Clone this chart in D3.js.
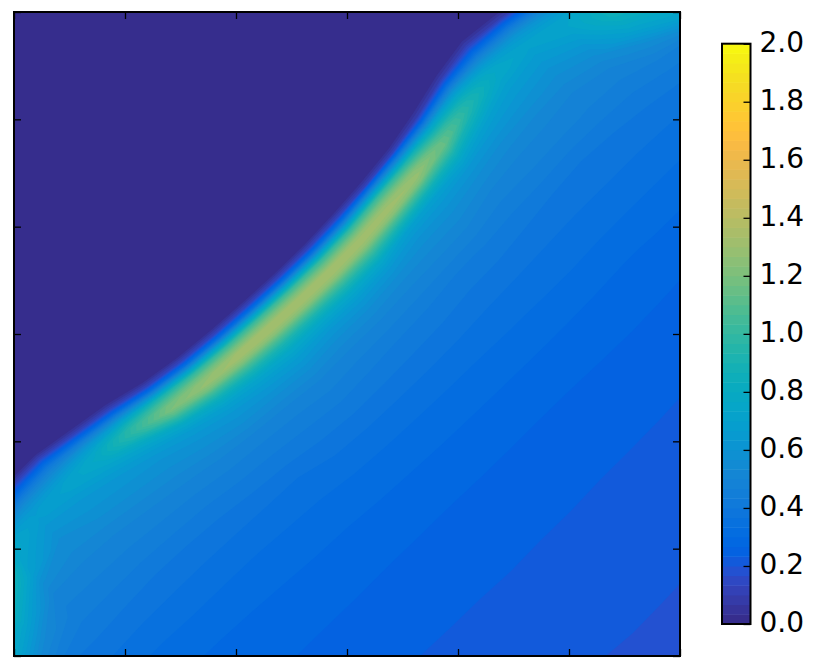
<!DOCTYPE html>
<html>
<head>
<meta charset="utf-8">
<script src="https://cdn.jsdelivr.net/npm/d3@7"></script>
<style>
  body { margin: 0; background: #fff; }
  text { font-family: 'DejaVu Sans', sans-serif; }
</style>
</head>
<body>
<div id="chart"></div>
<script>
// The field on a grid that follows the ridge:
// one row per station along the anti-diagonal (alongRidge), one column per
// offset across it (acrossRidge), counted from where the dark area ends (darkEdge).
var alongRidge = [-660, -600, -540, -480, -420, -360, -300, -240, -180, -120, -60, 0,
  60, 120, 180, 240, 300, 360, 420, 480, 540, 600, 660, 720];
var darkEdge = [495, 495, 495, 490, 490, 500, 510, 525, 535, 541, 545, 548,
  549, 547, 543, 537, 526, 512, 503, 510, 522, 532, 542, 552];
var acrossRidge = [-560, 0, 8, 16, 24, 32, 40, 48, 56, 64, 72, 82, 95, 110, 130, 155,
  190, 240, 300, 380, 470, 560, 680, 800];
var fieldRows = [
  [0,.03,.2,.4,.55,.7,.8,.85,.88,.9,.9,.9,.9,.9,.88,.85,.75,.5,.36,.29,.262,.238,.215,.194],
  [0,.03,.2,.4,.55,.7,.8,.9,1,1.1,1.15,1.2,1.2,1,.87,.72,.54,.4,.34,.29,.262,.238,.215,.194],
  [0,.03,.12,.24,.36,.47,.55,.65,.72,.76,.76,.74,.71,.68,.57,.49,.453,.4,.34,.292,.262,.238,.215,.194],
  [0,.03,.12,.24,.36,.47,.56,.62,.66,.67,.66,.63,.6,.56,.54,.5,.46,.402,.343,.293,.264,.239,.216,.195],
  [0,.03,.13,.27,.4,.5,.58,.65,.7,.71,.7,.66,.62,.6,.56,.505,.4625,.4,.345,.294,.264,.239,.216,.195],
  [0,.03,.12,.28,.46,.6,.7,.76,.78,.76,.73,.68,.63,.6,.56,.505,.457,.39,.339,.29,.261,.237,.214,.193],
  [0,.03,.12,.28,.5,.7,.86,.96,.98,.92,.82,.73,.65,.6,.56,.505,.45,.383,.334,.287,.258,.234,.213,.191],
  [0,.03,.13,.33,.62,.9,1.06,1.17,1.2,1.1,.95,.78,.67,.61,.56,.497,.442,.373,.326,.282,.254,.231,.21,.188],
  [0,.03,.14,.35,.68,.98,1.14,1.25,1.28,1.18,1.02,.85,.71,.63,.57,.49,.437,.367,.322,.278,.252,.229,.208,.186],
  [0,.03,.14,.36,.7,1,1.17,1.3,1.32,1.22,1.07,.9,.74,.65,.57,.49,.439,.375,.322,.277,.25,.228,.207,.186],
  [0,.03,.14,.36,.71,1.02,1.18,1.31,1.33,1.24,1.09,.92,.77,.67,.58,.5,.444,.376,.322,.276,.249,.228,.206,.186],
  [0,.03,.14,.36,.71,1.02,1.18,1.31,1.33,1.24,1.09,.91,.75,.64,.56,.49,.437,.375,.322,.276,.248,.227,.206,.187],
  [0,.03,.14,.36,.69,1,1.16,1.3,1.33,1.25,1.1,.93,.76,.65,.56,.49,.432,.375,.323,.276,.248,.227,.206,.186],
  [0,.03,.14,.36,.67,.98,1.15,1.29,1.33,1.26,1.12,.95,.76,.64,.55,.49,.432,.376,.326,.277,.248,.227,.206,.186],
  [0,.03,.12,.41,.73,1.02,1.17,1.29,1.32,1.24,1.08,.89,.69,.61,.55,.497,.428,.376,.331,.279,.249,.228,.207,.187],
  [0,.03,.12,.38,.66,.94,1.11,1.24,1.29,1.21,1.05,.86,.69,.62,.56,.505,.437,.379,.336,.2825,.251,.229,.208,.188],
  [0,.03,.1,.26,.5,.73,.9,1.04,1.13,1.14,1.04,.89,.74,.63,.56,.5,.445,.384,.344,.289,.254,.231,.21,.188],
  [0,.03,.1,.24,.42,.6,.74,.85,.92,.94,.9,.82,.71,.64,.57,.51,.466,.392,.352,.297,.258,.233,.212,.19],
  [0,.03,.1,.2,.33,.47,.58,.68,.74,.77,.76,.72,.67,.63,.58,.515,.476,.399,.358,.303,.26,.236,.214,.192],
  [0,.03,.1,.24,.38,.5,.6,.66,.7,.71,.69,.66,.63,.59,.55,.5,.463,.395,.353,.3,.258,.234,.213,.191],
  [0,.03,.12,.26,.4,.52,.6,.66,.7,.72,.73,.71,.67,.62,.56,.5,.449,.39,.345,.294,.255,.232,.21,.189],
  [0,.03,.2,.35,.48,.58,.66,.72,.77,.81,.84,.87,.86,.8,.71,.56,.457,.388,.339,.288,.252,.23,.209,.187],
  [0,.03,.2,.38,.52,.62,.7,.76,.8,.84,.86,.88,.88,.86,.8,.71,.457,.388,.339,.288,.252,.23,.209,.187],
  [0,.03,.2,.38,.52,.62,.7,.76,.8,.84,.86,.88,.88,.86,.8,.71,.457,.388,.339,.288,.252,.23,.209,.187]
];
var xTicks = [0, 1, 2, 3, 4, 5, 6];
var yTicks = [0, 1, 2, 3, 4, 5, 6];
var colorTicks = [0, 0.2, 0.4, 0.6, 0.8, 1, 1.2, 1.4, 1.6, 1.8, 2];
var parula = ['#352a87','#363093','#3637a0','#353dad','#3243ba','#2c4ac7','#2053d4','#0f5cdd',
  '#0363e1','#0268e1','#046de0','#0871de','#0d75dc','#1079da','#127dd8','#1481d6',
  '#1485d4','#1389d3','#108ed2','#0c93d2','#0998d1','#079ccf','#06a0cd','#06a4ca',
  '#06a7c6','#07a9c2','#0aacbe','#0faeb9','#15b1b4','#1db3af','#25b5a9','#2eb7a4',
  '#38b99e','#42ba98','#4dbc92','#59bd8c','#65be86','#71bf80','#7cbf7b','#87bf77',
  '#92bf73','#9bbe6f','#a5be6b','#aebd67','#b7bd64','#c0bc60','#c8bb5d','#d1bb59',
  '#d9ba56','#e1b952','#e9b94e','#f1b94a','#f8ba44','#fdbe3d','#ffc337','#fec832',
  '#fcce2e','#f9d32a','#f7d826','#f5de21','#f5e41d','#f5eb18','#f6f213','#f9fb0e'];

var vWidth = 831,
  vHeight = 668,
  margin = { top: 12, left: 14, bottom: 656, right: 680 },
  bar = { left: 722, right: 750.5, top: 43.7, bottom: 624 },
  tickLen = 7;

var nCols = acrossRidge.length,
  nRows = alongRidge.length,
  step = 1 / 30;

// contour levels, same spacing as the bands on the colour bar
var levels = d3.range(0, 60).map(function(i) {
  return i * step;
});

var color = d3
  .scaleLinear()
  .domain(
    parula.map(function(d, i) {
      return (i * 2) / (parula.length - 1);
    })
  )
  .range(parula);

var svg = d3
  .select('#chart')
  .append('svg')
  .attr('width', vWidth)
  .attr('height', vHeight)
  .attr('viewBox', '0 0 ' + vWidth + ' ' + vHeight)
  .style('display', 'block');

svg
  .append('clipPath')
  .attr('id', 'plot-clip')
  .append('rect')
  .attr('x', margin.left)
  .attr('y', margin.top)
  .attr('width', margin.right - margin.left)
  .attr('height', margin.bottom - margin.top);

// grid index to ridge coordinates, d3.contours puts the samples at i + 0.5
var offsetAt = d3
  .scaleLinear()
  .domain(
    acrossRidge.map(function(d, i) {
      return i + 0.5;
    })
  )
  .range(acrossRidge);
var stationAt = d3
  .scaleLinear()
  .domain(
    alongRidge.map(function(d, i) {
      return i + 0.5;
    })
  )
  .range(alongRidge);
var edgeAt = d3
  .scaleLinear()
  .domain(stationAt.domain())
  .range(darkEdge);

var path = d3.geoPath(
  d3.geoTransform({
    point: function(i, j) {
      // p = x - y, q = x + y
      var p = stationAt(j),
        q = edgeAt(j) + offsetAt(i);
      this.stream.point((q + p) / 2, (q - p) / 2);
    }
  })
);

var bands = d3
  .contours()
  .size([nCols, nRows])
  .thresholds(levels)(d3.merge(fieldRows));

svg
  .append('g')
  .attr('clip-path', 'url(#plot-clip)')
  .selectAll('path')
  .data(bands)
  .enter()
  .append('path')
  .attr('d', path)
  .attr('fill', function(d) {
    return color(d.value + step / 2);
  });

var x = d3
  .scaleLinear()
  .domain([0, 6])
  .range([margin.left, margin.right]);
var y = d3
  .scaleLinear()
  .domain([0, 6])
  .range([margin.bottom, margin.top]);

function addTicks(axis, tx, ty, values) {
  var g = svg
    .append('g')
    .attr('transform', 'translate(' + tx + ',' + ty + ')')
    .call(
      axis
        .tickValues(values)
        .tickSize(-tickLen)
        .tickFormat('')
    );
  g.select('.domain').remove();
  g.selectAll('line')
    .attr('stroke', '#000')
    .attr('stroke-width', 1.3);
}

addTicks(d3.axisBottom(x), 0, margin.bottom, xTicks);
addTicks(d3.axisTop(x), 0, margin.top, xTicks);
addTicks(d3.axisLeft(y), margin.left, 0, yTicks);
addTicks(d3.axisRight(y), margin.right, 0, yTicks);

svg
  .append('rect')
  .attr('x', margin.left)
  .attr('y', margin.top)
  .attr('width', margin.right - margin.left)
  .attr('height', margin.bottom - margin.top)
  .attr('fill', 'none')
  .attr('stroke', '#000')
  .attr('stroke-width', 2);

// colour bar
var colorY = d3
  .scaleLinear()
  .domain([0, 2])
  .range([bar.bottom, bar.top]);

svg
  .append('g')
  .selectAll('rect')
  .data(levels)
  .enter()
  .append('rect')
  .attr('x', bar.left)
  .attr('width', bar.right - bar.left)
  .attr('y', function(d) {
    return colorY(d + step);
  })
  .attr('height', function(d) {
    return colorY(d) - colorY(d + step) + 0.5;
  })
  .attr('fill', function(d) {
    return color(d + step / 2);
  });

var colorAxis = svg
  .append('g')
  .attr('transform', 'translate(' + bar.right + ',0)')
  .call(
    d3
      .axisRight(colorY)
      .tickValues(colorTicks)
      .tickSize(-tickLen)
      .tickPadding(9)
      .tickFormat(d3.format('.1f'))
  );
colorAxis.select('.domain').remove();
colorAxis
  .selectAll('line')
  .attr('stroke', '#000')
  .attr('stroke-width', 1.3);
colorAxis
  .selectAll('text')
  .attr('fill', '#000')
  .attr('dy', '0.28em')
  .style('font-size', '28px');

svg
  .append('rect')
  .attr('x', bar.left)
  .attr('y', bar.top)
  .attr('width', bar.right - bar.left)
  .attr('height', bar.bottom - bar.top)
  .attr('fill', 'none')
  .attr('stroke', '#000')
  .attr('stroke-width', 2);
</script>
</body>
</html>
